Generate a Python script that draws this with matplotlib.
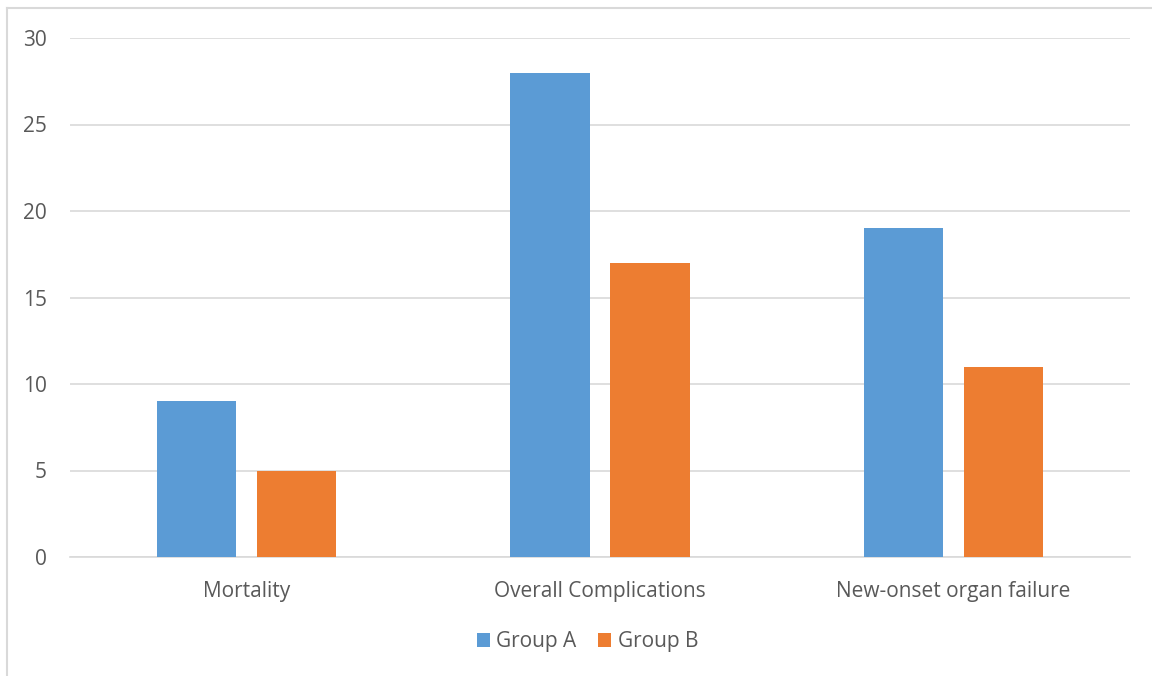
import numpy as np
import matplotlib
matplotlib.use("Agg")
import matplotlib.pyplot as plt
from matplotlib.lines import Line2D

# data
categories = ["Mortality", "Overall Complications", "New-onset organ failure"]
group_a = [9, 28, 19]
group_b = [5, 17, 11]
series_names = ["Group A", "Group B"]
yticks = [0, 5, 10, 15, 20, 25, 30]

plt.rcParams['font.family'] = ['Open Sans', 'DejaVu Sans']

W, H = 1152, 676
fig = plt.figure(figsize=(W / 100, H / 100), dpi=100)
fig.patch.set_facecolor('white')

# chart-area border (only left and top visible)
fig.add_artist(Line2D([6.5 / W, 6.5 / W], [0, 1 - 8 / H], transform=fig.transFigure,
                      color='#D9D9D9', lw=1.5))
fig.add_artist(Line2D([6.5 / W, 1], [1 - 8 / H, 1 - 8 / H], transform=fig.transFigure,
                      color='#D9D9D9', lw=1.5))

left, right = 70, 1130
top, bottom = 38, 557
ax = fig.add_axes([left / W, 1 - bottom / H, (right - left) / W, (bottom - top) / H])

x = np.arange(len(categories))
width = 0.224
off = 0.1415
ax.bar(x - off, group_a, width, color='#5B9BD5', label=series_names[0], zorder=3)
ax.bar(x + off, group_b, width, color='#ED7D31', label=series_names[1], zorder=3)

ax.set_xlim(-0.5, len(categories) - 0.5)
ax.set_ylim(0, 30)
ax.set_yticks(yticks)
ax.set_xticks(x)
ax.set_xticklabels(categories)
ax.yaxis.grid(True, color='#D9D9D9', lw=1.2, zorder=0)
for s in ['top', 'right', 'left']:
    ax.spines[s].set_visible(False)
ax.spines['bottom'].set_color('#D9D9D9')
ax.spines['bottom'].set_linewidth(1.2)
ax.tick_params(axis='both', length=0, colors='#595959', labelsize=15)
ax.tick_params(axis='y', pad=16.5)
ax.tick_params(axis='x', pad=17)

leg = fig.legend(loc='center', bbox_to_anchor=(587.5 / W, 1 - 642 / H), ncol=2, frameon=False,
                 fontsize=15, handlelength=0.62, handleheight=0.62, handletextpad=0.3,
                 columnspacing=1.06)
for t in leg.get_texts():
    t.set_color('#595959')

fig.savefig("out.png", dpi=100)
